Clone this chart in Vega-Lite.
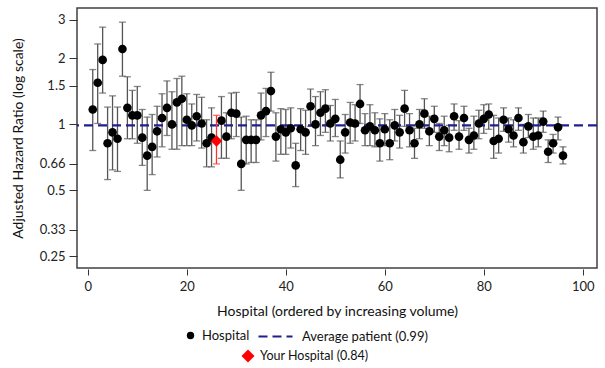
{
  "$schema": "https://vega.github.io/schema/vega-lite/v6.json",
  "width": 520,
  "height": 260,
  "autosize": {"type": "none"},
  "padding": {"left": 77, "top": 8, "right": 8, "bottom": 100},
  "background": "white",
  "config": {
    "font": "Lato",
    "view": {"stroke": "#404040", "strokeWidth": 1.5},
    "axis": {
      "domain": false,
      "grid": false,
      "tickColor": "#333333",
      "labelColor": "#222222",
      "labelFont": "Lato",
      "labelFontSize": 13,
      "titleFont": "Lato",
      "titleFontSize": 14,
      "titleFontWeight": "normal",
      "titleColor": "#111111"
    },
    "legend": {
      "labelFont": "Lato",
      "labelFontSize": 13,
      "labelColor": "#111111",
      "padding": 0
    }
  },
  "datasets": {
    "hospitals": [
      {"hospital": 1, "hr": 1.17, "lo": 0.76, "hi": 1.78},
      {"hospital": 2, "hr": 1.55, "lo": 1.01, "hi": 2.33},
      {"hospital": 3, "hr": 1.97, "lo": 1.39, "hi": 2.78},
      {"hospital": 4, "hr": 0.82, "lo": 0.56, "hi": 1.20},
      {"hospital": 5, "hr": 0.92, "lo": 0.62, "hi": 1.35},
      {"hospital": 6, "hr": 0.86, "lo": 0.61, "hi": 1.20},
      {"hospital": 7, "hr": 2.21, "lo": 1.66, "hi": 2.93},
      {"hospital": 8, "hr": 1.19, "lo": 0.86, "hi": 1.65},
      {"hospital": 9, "hr": 1.10, "lo": 0.86, "hi": 1.43},
      {"hospital": 10, "hr": 1.10, "lo": 0.82, "hi": 1.49},
      {"hospital": 11, "hr": 0.87, "lo": 0.65, "hi": 1.17},
      {"hospital": 12, "hr": 0.72, "lo": 0.50, "hi": 1.08},
      {"hospital": 13, "hr": 0.79, "lo": 0.59, "hi": 1.11},
      {"hospital": 14, "hr": 0.93, "lo": 0.71, "hi": 1.21},
      {"hospital": 15, "hr": 1.07, "lo": 0.79, "hi": 1.38},
      {"hospital": 16, "hr": 1.19, "lo": 0.89, "hi": 1.58},
      {"hospital": 17, "hr": 1.00, "lo": 0.77, "hi": 1.41},
      {"hospital": 18, "hr": 1.26, "lo": 0.77, "hi": 1.62},
      {"hospital": 19, "hr": 1.31, "lo": 0.80, "hi": 1.66},
      {"hospital": 20, "hr": 1.05, "lo": 0.80, "hi": 1.38},
      {"hospital": 21, "hr": 0.99, "lo": 0.80, "hi": 1.24},
      {"hospital": 22, "hr": 1.09, "lo": 0.84, "hi": 1.37},
      {"hospital": 23, "hr": 1.01, "lo": 0.78, "hi": 1.33},
      {"hospital": 24, "hr": 0.82, "lo": 0.64, "hi": 1.05},
      {"hospital": 25, "hr": 0.87, "lo": 0.64, "hi": 1.19},
      {"hospital": 27, "hr": 1.04, "lo": 0.70, "hi": 1.34},
      {"hospital": 28, "hr": 0.88, "lo": 0.70, "hi": 1.13},
      {"hospital": 29, "hr": 1.13, "lo": 0.86, "hi": 1.39},
      {"hospital": 30, "hr": 1.12, "lo": 0.88, "hi": 1.40},
      {"hospital": 31, "hr": 0.66, "lo": 0.50, "hi": 1.08},
      {"hospital": 32, "hr": 0.85, "lo": 0.66, "hi": 1.09},
      {"hospital": 33, "hr": 0.85, "lo": 0.67, "hi": 1.05},
      {"hospital": 34, "hr": 0.85, "lo": 0.67, "hi": 1.05},
      {"hospital": 35, "hr": 1.10, "lo": 0.85, "hi": 1.39},
      {"hospital": 36, "hr": 1.15, "lo": 0.88, "hi": 1.46},
      {"hospital": 37, "hr": 1.42, "lo": 1.15, "hi": 1.73},
      {"hospital": 38, "hr": 0.88, "lo": 0.68, "hi": 1.13},
      {"hospital": 39, "hr": 0.95, "lo": 0.73, "hi": 1.18},
      {"hospital": 40, "hr": 0.92, "lo": 0.73, "hi": 1.17},
      {"hospital": 41, "hr": 0.96, "lo": 0.78, "hi": 1.19},
      {"hospital": 42, "hr": 0.65, "lo": 0.52, "hi": 0.82},
      {"hospital": 43, "hr": 0.95, "lo": 0.76, "hi": 1.18},
      {"hospital": 44, "hr": 0.92, "lo": 0.73, "hi": 1.16},
      {"hospital": 45, "hr": 1.21, "lo": 0.98, "hi": 1.45},
      {"hospital": 46, "hr": 1.00, "lo": 0.80, "hi": 1.34},
      {"hospital": 47, "hr": 1.13, "lo": 0.89, "hi": 1.41},
      {"hospital": 48, "hr": 1.18, "lo": 0.92, "hi": 1.44},
      {"hospital": 49, "hr": 1.01, "lo": 0.84, "hi": 1.22},
      {"hospital": 50, "hr": 1.06, "lo": 0.88, "hi": 1.30},
      {"hospital": 51, "hr": 0.69, "lo": 0.57, "hi": 0.84},
      {"hospital": 52, "hr": 0.92, "lo": 0.74, "hi": 1.11},
      {"hospital": 53, "hr": 1.02, "lo": 0.82, "hi": 1.26},
      {"hospital": 54, "hr": 1.01, "lo": 0.84, "hi": 1.23},
      {"hospital": 55, "hr": 1.24, "lo": 1.01, "hi": 1.52},
      {"hospital": 56, "hr": 0.94, "lo": 0.80, "hi": 1.12},
      {"hospital": 57, "hr": 0.98, "lo": 0.80, "hi": 1.23},
      {"hospital": 58, "hr": 0.94, "lo": 0.79, "hi": 1.13},
      {"hospital": 59, "hr": 0.82, "lo": 0.68, "hi": 1.06},
      {"hospital": 60, "hr": 0.95, "lo": 0.80, "hi": 1.12},
      {"hospital": 61, "hr": 0.82, "lo": 0.69, "hi": 1.05},
      {"hospital": 62, "hr": 0.99, "lo": 0.84, "hi": 1.17},
      {"hospital": 63, "hr": 0.92, "lo": 0.78, "hi": 1.10},
      {"hospital": 64, "hr": 1.18, "lo": 0.98, "hi": 1.43},
      {"hospital": 65, "hr": 0.94, "lo": 0.79, "hi": 1.12},
      {"hospital": 66, "hr": 0.82, "lo": 0.70, "hi": 0.96},
      {"hospital": 67, "hr": 1.00, "lo": 0.86, "hi": 1.17},
      {"hospital": 68, "hr": 1.12, "lo": 0.96, "hi": 1.31},
      {"hospital": 69, "hr": 0.93, "lo": 0.80, "hi": 1.09},
      {"hospital": 70, "hr": 1.06, "lo": 0.92, "hi": 1.21},
      {"hospital": 71, "hr": 0.88, "lo": 0.76, "hi": 1.01},
      {"hospital": 72, "hr": 0.94, "lo": 0.80, "hi": 1.09},
      {"hospital": 73, "hr": 0.87, "lo": 0.75, "hi": 0.99},
      {"hospital": 74, "hr": 1.09, "lo": 0.94, "hi": 1.24},
      {"hospital": 75, "hr": 0.88, "lo": 0.77, "hi": 1.04},
      {"hospital": 76, "hr": 1.07, "lo": 0.94, "hi": 1.21},
      {"hospital": 77, "hr": 0.85, "lo": 0.74, "hi": 0.96},
      {"hospital": 78, "hr": 0.89, "lo": 0.77, "hi": 1.09},
      {"hospital": 79, "hr": 1.01, "lo": 0.86, "hi": 1.16},
      {"hospital": 80, "hr": 1.06, "lo": 0.91, "hi": 1.23},
      {"hospital": 81, "hr": 1.11, "lo": 0.95, "hi": 1.24},
      {"hospital": 82, "hr": 0.84, "lo": 0.70, "hi": 1.10},
      {"hospital": 83, "hr": 0.86, "lo": 0.74, "hi": 1.07},
      {"hospital": 84, "hr": 1.05, "lo": 0.93, "hi": 1.19},
      {"hospital": 85, "hr": 0.95, "lo": 0.83, "hi": 1.07},
      {"hospital": 86, "hr": 0.89, "lo": 0.79, "hi": 1.05},
      {"hospital": 87, "hr": 1.07, "lo": 0.94, "hi": 1.19},
      {"hospital": 88, "hr": 0.83, "lo": 0.74, "hi": 1.00},
      {"hospital": 89, "hr": 0.98, "lo": 0.87, "hi": 1.11},
      {"hospital": 90, "hr": 0.88, "lo": 0.77, "hi": 1.07},
      {"hospital": 91, "hr": 0.89, "lo": 0.79, "hi": 1.07},
      {"hospital": 92, "hr": 1.03, "lo": 0.92, "hi": 1.15},
      {"hospital": 93, "hr": 0.75, "lo": 0.67, "hi": 0.85},
      {"hospital": 94, "hr": 0.82, "lo": 0.74, "hi": 0.90},
      {"hospital": 95, "hr": 0.97, "lo": 0.85, "hi": 1.08},
      {"hospital": 96, "hr": 0.72, "lo": 0.66, "hi": 0.79}
    ],
    "yours": [
      {"hospital": 26, "hr": 0.84, "lo": 0.66, "hi": 1.10}
    ],
    "average": [
      {"hr": 0.99}
    ]
  },
  "resolve": {"scale": {"shape": "independent"}, "legend": {"shape": "independent"}},
  "layer": [
    {
      "data": {"name": "hospitals"},
      "mark": {"type": "rule", "color": "#555555", "strokeWidth": 1.3},
      "encoding": {
        "x": {
          "field": "hospital", "type": "quantitative",
          "scale": {"domain": [-2.18, 102.87], "nice": false, "zero": false},
          "axis": {"values": [0, 20, 40, 60, 80, 100], "tickSize": 6, "offset": 1, "labelPadding": 5, "title": "Hospital (ordered by increasing volume)", "titlePadding": 11}
        },
        "y": {
          "field": "lo", "type": "quantitative",
          "scale": {"type": "log", "domain": [0.221, 3.4], "nice": false},
          "axis": {"values": [0.25, 0.33, 0.5, 0.66, 1, 1.5, 2, 3], "labelExpr": "datum.value", "tickSize": 8, "labelPadding": 4, "title": "Adjusted Hazard Ratio (log scale)", "titlePadding": 14}
        },
        "y2": {"field": "hi"}
      }
    },
    {
      "data": {"name": "hospitals"},
      "mark": {"type": "tick", "orient": "horizontal", "size": 7, "thickness": 1.3, "color": "#555555"},
      "encoding": {
        "x": {"field": "hospital", "type": "quantitative"},
        "y": {"field": "lo", "type": "quantitative"}
      }
    },
    {
      "data": {"name": "hospitals"},
      "mark": {"type": "tick", "orient": "horizontal", "size": 7, "thickness": 1.3, "color": "#555555"},
      "encoding": {
        "x": {"field": "hospital", "type": "quantitative"},
        "y": {"field": "hi", "type": "quantitative"}
      }
    },
    {
      "data": {"name": "average"},
      "mark": {"type": "rule", "color": "#1f1f8f", "strokeWidth": 2.2},
      "encoding": {
        "y": {"field": "hr", "type": "quantitative"},
        "strokeDash": {
          "datum": "Average patient (0.99)",
          "scale": {"range": [[9, 5]]},
          "legend": {"title": null, "orient": "none", "legendX": 180, "legendY": 310, "symbolSize": 1156, "symbolStrokeWidth": 2.2, "symbolStrokeColor": "#1f1f8f", "labelOffset": 8}
        }
      }
    },
    {
      "data": {"name": "hospitals"},
      "mark": {"type": "point", "filled": true, "color": "black", "size": 75, "opacity": 1},
      "encoding": {
        "x": {"field": "hospital", "type": "quantitative"},
        "y": {"field": "hr", "type": "quantitative"},
        "shape": {
          "datum": "Hospital",
          "scale": {"range": ["circle"]},
          "legend": {"title": null, "orient": "none", "legendX": 107, "legendY": 321, "symbolSize": 55, "symbolFillColor": "black", "symbolStrokeWidth": 0, "labelOffset": 5, "labelFontSize": 13}
        }
      }
    },
    {
      "data": {"name": "yours"},
      "mark": {"type": "rule", "color": "#ff3030", "strokeWidth": 1.3},
      "encoding": {
        "x": {"field": "hospital", "type": "quantitative"},
        "y": {"field": "lo", "type": "quantitative"},
        "y2": {"field": "hi"}
      }
    },
    {
      "data": {"name": "yours"},
      "mark": {"type": "tick", "orient": "horizontal", "size": 7, "thickness": 1.3, "color": "#ff3030"},
      "encoding": {
        "x": {"field": "hospital", "type": "quantitative"},
        "y": {"field": "lo", "type": "quantitative"}
      }
    },
    {
      "data": {"name": "yours"},
      "mark": {"type": "tick", "orient": "horizontal", "size": 7, "thickness": 1.3, "color": "#ff3030"},
      "encoding": {
        "x": {"field": "hospital", "type": "quantitative"},
        "y": {"field": "hi", "type": "quantitative"}
      }
    },
    {
      "data": {"name": "yours"},
      "mark": {"type": "point", "filled": true, "color": "#ff0000", "size": 130, "opacity": 1},
      "encoding": {
        "x": {"field": "hospital", "type": "quantitative"},
        "y": {"field": "hr", "type": "quantitative"},
        "shape": {
          "datum": "Your Hospital (0.84)",
          "scale": {"range": ["diamond"]},
          "legend": {"title": null, "orient": "none", "legendX": 164, "legendY": 341, "symbolSize": 170, "symbolFillColor": "#ff0000", "symbolStrokeWidth": 0, "labelOffset": 5, "labelFontSize": 12.5}
        }
      }
    }
  ]
}
